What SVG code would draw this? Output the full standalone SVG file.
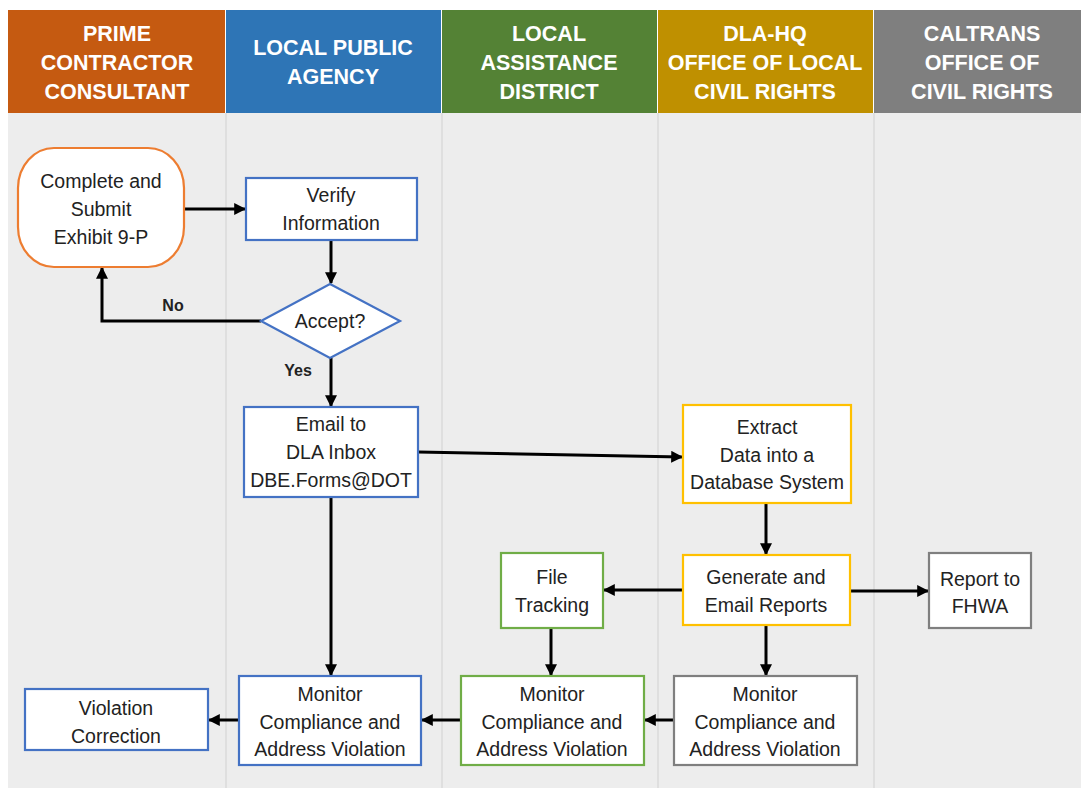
<svg xmlns="http://www.w3.org/2000/svg" width="1081" height="788" viewBox="0 0 1081 788">
<style>
.hd{font-family:"Liberation Sans",Arial,sans-serif;font-weight:bold;font-size:21.5px;fill:#fff;text-anchor:middle}
.t{font-family:"Liberation Sans",Arial,sans-serif;font-size:19.5px;fill:#222;text-anchor:middle}
.lb{font-family:"Liberation Sans",Arial,sans-serif;font-size:16px;font-weight:bold;fill:#222;text-anchor:middle}
.bx{fill:#fff;stroke-width:2.2}
.b{stroke:#4472C4}.o{stroke:#ED7D31}.g{stroke:#70AD47}.y{stroke:#FFC000}.k{stroke:#7F7F7F}
.c{fill:none;stroke:#000;stroke-width:3;marker-end:url(#ah)}
</style>
<defs>
<marker id="ah" viewBox="0 0 10 10" refX="9" refY="5" markerWidth="4" markerHeight="4" orient="auto" markerUnits="strokeWidth">
<path d="M0,0 L10,5 L0,10 z" fill="#000"/>
</marker>
</defs>
<rect x="0" y="0" width="1081" height="788" fill="#fff"/>
<g id="lanes">
<rect x="8" y="113" width="1073" height="675" fill="#EDEDED"/>
<line x1="226" y1="113" x2="226" y2="788" stroke="#DADADA" stroke-width="1.5"/>
<line x1="442" y1="113" x2="442" y2="788" stroke="#DADADA" stroke-width="1.5"/>
<line x1="658" y1="113" x2="658" y2="788" stroke="#DADADA" stroke-width="1.5"/>
<line x1="874" y1="113" x2="874" y2="788" stroke="#DADADA" stroke-width="1.5"/>
</g>
<g id="headers">
<rect x="8" y="10" width="217" height="103" fill="#C55A11"/>
<rect x="226" y="10" width="215" height="103" fill="#2E75B6"/>
<rect x="442" y="10" width="215" height="103" fill="#548235"/>
<rect x="658" y="10" width="215" height="103" fill="#BF9000"/>
<rect x="874" y="10" width="207" height="103" fill="#7F7F7F"/>
<text class="hd" x="117" y="40.5">PRIME</text>
<text class="hd" x="117" y="69.5">CONTRACTOR</text>
<text class="hd" x="117" y="98.5">CONSULTANT</text>
<text class="hd" x="333" y="54.5">LOCAL PUBLIC</text>
<text class="hd" x="333" y="83.5">AGENCY</text>
<text class="hd" x="549" y="40.5">LOCAL</text>
<text class="hd" x="549" y="69.5">ASSISTANCE</text>
<text class="hd" x="549" y="98.5">DISTRICT</text>
<text class="hd" x="765" y="40.5">DLA-HQ</text>
<text class="hd" x="765" y="69.5">OFFICE OF LOCAL</text>
<text class="hd" x="765" y="98.5">CIVIL RIGHTS</text>
<text class="hd" x="982" y="40.5">CALTRANS</text>
<text class="hd" x="982" y="69.5">OFFICE OF</text>
<text class="hd" x="982" y="98.5">CIVIL RIGHTS</text>
</g>
<g id="connectors">
<line class="c" x1="184" y1="209" x2="245" y2="209"/>
<line class="c" x1="331" y1="240" x2="331" y2="283"/>
<polyline class="c" points="261,321 102,321 102,268"/>
<line class="c" x1="331" y1="358" x2="331" y2="406"/>
<line class="c" x1="418" y1="452" x2="682" y2="457"/>
<line class="c" x1="766" y1="503" x2="766" y2="554"/>
<line class="c" x1="683" y1="590" x2="604" y2="590"/>
<line class="c" x1="850" y1="591" x2="928" y2="591"/>
<line class="c" x1="766" y1="625" x2="766" y2="675"/>
<line class="c" x1="551" y1="628" x2="551" y2="675"/>
<line class="c" x1="331" y1="497" x2="331" y2="675"/>
<line class="c" x1="674" y1="720" x2="645" y2="720"/>
<line class="c" x1="461" y1="720" x2="422" y2="720"/>
<line class="c" x1="239" y1="720" x2="209" y2="720"/>
<text class="lb" x="173" y="311">No</text>
<text class="lb" x="298" y="376">Yes</text>
</g>
<g id="n_submit">
<rect class="bx o" x="18" y="148" width="166" height="119" rx="36" ry="40"/>
<text class="t" x="101" y="188">Complete and</text>
<text class="t" x="101" y="216">Submit</text>
<text class="t" x="101" y="244">Exhibit 9-P</text>
</g>
<g id="n_verify">
<rect class="bx b" x="246" y="178" width="171" height="62"/>
<text class="t" x="331" y="202">Verify</text>
<text class="t" x="331" y="230">Information</text>
</g>
<g id="n_accept">
<polygon class="bx b" points="330,284 400,321 330,358 261,321"/>
<text class="t" x="330" y="328">Accept?</text>
</g>
<g id="n_email">
<rect class="bx b" x="244" y="407" width="174" height="90"/>
<text class="t" x="331" y="431">Email to</text>
<text class="t" x="331" y="459">DLA Inbox</text>
<text class="t" x="331" y="487">DBE.Forms@DOT</text>
</g>
<g id="n_extract">
<rect class="bx y" x="683" y="405" width="168" height="98"/>
<text class="t" x="767" y="434">Extract</text>
<text class="t" x="767" y="462">Data into a</text>
<text class="t" x="767" y="489">Database System</text>
</g>
<g id="n_generate">
<rect class="bx y" x="683" y="555" width="167" height="70"/>
<text class="t" x="766" y="584">Generate and</text>
<text class="t" x="766" y="612">Email Reports</text>
</g>
<g id="n_file">
<rect class="bx g" x="501" y="553" width="102" height="75"/>
<text class="t" x="552" y="584">File</text>
<text class="t" x="552" y="612">Tracking</text>
</g>
<g id="n_fhwa">
<rect class="bx k" x="929" y="553" width="102" height="75"/>
<text class="t" x="980" y="586">Report to</text>
<text class="t" x="980" y="613">FHWA</text>
</g>
<g id="n_mon_lpa">
<rect class="bx b" x="239" y="676" width="182" height="89"/>
<text class="t" x="330" y="701">Monitor</text>
<text class="t" x="330" y="729">Compliance and</text>
<text class="t" x="330" y="756">Address Violation</text>
</g>
<g id="n_mon_district">
<rect class="bx g" x="461" y="676" width="183" height="89"/>
<text class="t" x="552" y="701">Monitor</text>
<text class="t" x="552" y="729">Compliance and</text>
<text class="t" x="552" y="756">Address Violation</text>
</g>
<g id="n_mon_dla">
<rect class="bx k" x="674" y="676" width="183" height="89"/>
<text class="t" x="765" y="701">Monitor</text>
<text class="t" x="765" y="729">Compliance and</text>
<text class="t" x="765" y="756">Address Violation</text>
</g>
<g id="n_violation">
<rect class="bx b" x="25" y="689" width="183" height="61"/>
<text class="t" x="116" y="715">Violation</text>
<text class="t" x="116" y="743">Correction</text>
</g>
</svg>
